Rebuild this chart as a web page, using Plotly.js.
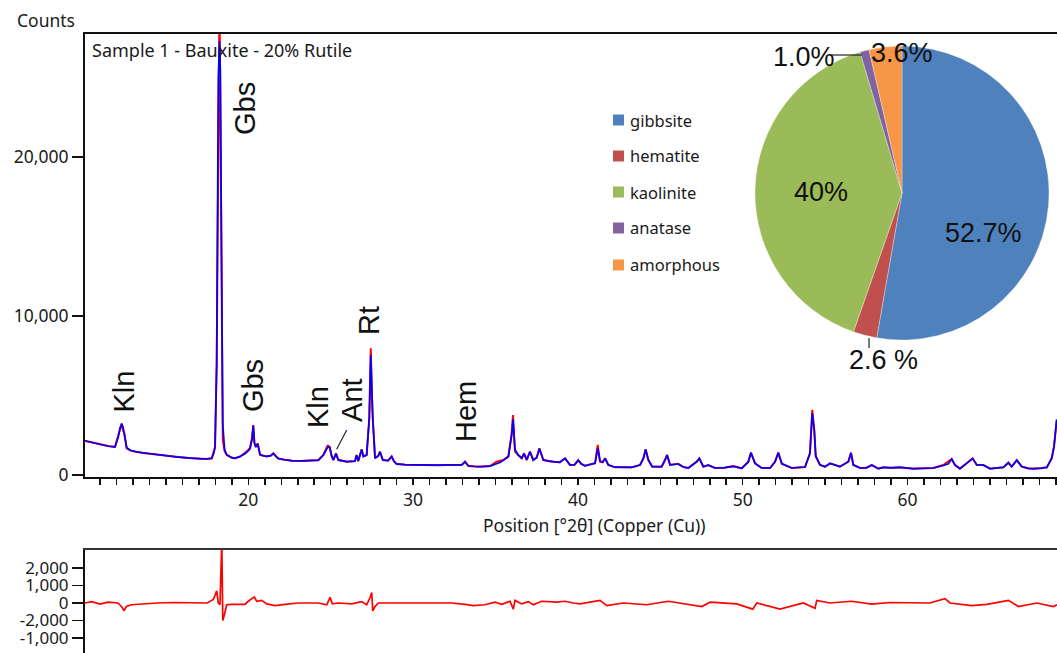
<!DOCTYPE html>
<html>
<head>
<meta charset="utf-8">
<script src="https://cdn.plot.ly/plotly-3.0.1.min.js"></script>
<style>html,body{margin:0;padding:0;background:#fff;}#chart{width:1057px;height:653px;}</style>
</head>
<body>
<div id="chart"></div>
<script>
// ---------- DATA ----------
const twoTheta = [10.09,10.6,11.10,11.5,11.91,12.11,12.22,12.32,12.40,12.48,12.62,12.85,13.12,13.6,14.14,14.6,15.15,15.6,16.16,16.6,17.17,17.5,17.78,17.90,17.98,18.08,18.18,18.25,18.30,18.39,18.45,18.56,18.69,19.0,19.19,19.5,19.80,19.98,20.10,20.22,20.30,20.37,20.45,20.57,20.71,20.9,21.12,21.35,21.52,21.70,21.82,22.2,22.63,23.2,23.8,24.25,24.55,24.72,24.82,24.94,25.06,25.16,25.32,25.46,25.97,26.47,26.57,26.67,26.88,26.98,27.18,27.34,27.43,27.50,27.55,27.69,27.88,27.99,28.16,28.48,28.70,28.84,29.0,29.5,30.01,30.5,31.03,31.5,32.04,32.5,32.95,33.15,33.35,33.7,34.06,34.67,35.07,35.30,35.47,35.78,35.98,36.06,36.18,36.38,36.59,36.73,36.89,37.09,37.29,37.5,37.66,37.90,38.2,38.51,38.9,39.22,39.52,39.8,40.02,40.2,40.43,41.04,41.20,41.34,41.5,41.65,41.84,42.25,42.8,43.26,43.77,43.97,44.11,44.27,44.51,45.08,45.28,45.41,45.59,46.09,46.4,46.70,47.21,47.37,47.61,47.91,48.32,48.9,49.43,49.94,50.34,50.50,50.75,51.15,51.66,51.96,52.16,52.37,52.97,53.4,53.78,54.08,54.22,54.34,54.43,54.69,54.99,55.30,55.90,56.41,56.57,56.71,57.12,57.5,57.83,58.23,58.53,59.0,59.54,60.35,61.0,61.57,62.17,62.48,62.68,62.88,63.18,63.59,63.95,64.20,64.60,65.01,65.4,65.81,66.12,66.32,66.63,66.93,67.3,67.63,68.1,68.45,68.75,68.89,69.05];
const observedCounts = [2160,2030,1890,1820,1780,2410,2900,3250,2800,2620,1680,1530,1470,1390,1320,1260,1195,1140,1090,1050,1005,1010,1040,1500,1780,7000,22000,29500,24000,11700,2200,1500,1260,1080,1050,1150,1365,1550,1700,2300,3145,2000,1780,1990,1260,1200,1170,1200,1365,1150,1040,960,900,880,900,930,1260,1600,1880,1700,1170,940,1365,940,840,870,1260,870,1615,1170,1260,3570,7970,5000,3590,1050,1200,1470,940,900,1170,850,690,650,630,620,630,610,630,620,630,840,570,540,520,560,840,900,940,1170,2620,3770,1470,1260,1050,1365,940,1470,940,1100,1680,940,880,840,800,1050,630,650,940,700,580,735,1890,840,800,1050,630,480,480,480,630,1050,1615,940,520,520,940,1260,630,700,500,440,840,1050,520,630,440,460,560,420,840,1405,735,440,440,840,1405,700,440,470,500,1365,4090,2830,1170,630,520,735,525,840,1405,630,440,450,630,400,480,450,480,400,420,440,630,840,1010,630,400,735,1050,630,630,400,420,480,780,520,940,520,420,400,430,480,1050,1780,3400];
const calculatedCounts = [2140,2010,1880,1810,1760,2380,2950,3200,3000,2500,1720,1560,1470,1400,1320,1250,1190,1140,1090,1050,1010,1020,1060,1350,1700,6900,25000,27300,25500,11500,3200,1600,1280,1090,1050,1170,1340,1500,1650,2200,3100,2050,1750,1960,1300,1210,1170,1220,1350,1160,1040,960,900,890,900,930,1240,1550,1750,1780,1200,950,1340,950,840,870,1240,880,1600,1160,1250,3550,7550,5300,3600,1060,1200,1450,950,900,1150,860,700,650,630,625,630,620,630,620,640,820,580,550,530,560,700,800,920,1150,2500,3500,1600,1250,1060,1350,960,1460,950,1090,1650,950,870,840,800,1040,640,650,920,700,580,730,1680,880,800,1040,640,490,480,480,620,1030,1600,960,530,520,920,1250,640,690,500,440,830,1040,530,620,440,460,540,420,820,1400,730,450,440,820,1400,720,440,470,500,1360,3900,2830,1200,640,520,720,525,830,1390,640,440,450,620,400,480,450,480,400,420,440,600,700,1000,640,400,720,1030,650,620,400,420,480,770,520,930,530,420,400,430,480,1050,1800,3500];

const diffTwoTheta = [10.09,10.5,11.0,11.5,12.1,12.35,12.45,12.6,12.9,13.5,14.5,15.5,16.5,17.5,17.88,18.08,18.18,18.28,18.39,18.45,18.54,18.69,19.0,19.8,20.0,20.2,20.36,20.51,20.81,21.12,21.62,22.23,23.03,24.25,24.76,24.96,25.1,25.46,26.27,26.88,27.18,27.38,27.49,27.55,27.69,27.89,29.31,32.34,33.15,33.65,34.36,34.97,35.38,35.88,36.08,36.18,36.59,36.99,37.29,37.8,38.71,39.22,39.72,40.13,41.34,41.75,42.76,44.17,45.49,47.51,48.02,49.64,50.61,50.85,52.26,53.68,54.39,54.49,55.3,56.61,57.83,58.94,61.36,62.27,62.58,63.89,64.81,66.12,66.72,67.84,68.85,69.07];
const diffCounts = [0,80,-60,50,0,-250,-440,-200,-100,-50,0,30,0,0,200,700,0,-100,3500,-1000,-700,-100,-80,-80,100,250,350,100,150,-50,-150,-80,0,0,-100,320,-50,0,-50,80,-100,300,600,-450,-200,0,0,0,-80,-150,-100,50,-80,100,-350,150,-50,80,-100,100,50,100,0,-50,150,-150,0,-100,100,-200,50,-50,-350,0,-350,0,-300,150,0,100,-60,30,0,250,0,-150,-80,150,-200,0,-200,-100];

const phases = ['gibbsite','hematite','kaolinite','anatase','amorphous'];
const phaseShares = [52.7, 2.6, 40.0, 1.0, 3.6];
const shareLabels = ['52.7%','2.6 %','40%','1.0%','3.6%'];
const phaseColors = ['#4F81BD','#C0504D','#9BBB59','#8064A2','#F79646'];

// ---------- LAYOUT HELPERS ----------
const W = 1057, H = 653;
const PX = x => x / W;
const PY = y => 1 - y / H;
const AX = 'Noto Sans, Open Sans, sans-serif';
const ARIAL = 'Liberation Sans, Arial, sans-serif';
const TXT = '#1a1a1a';

const traces = [
  {type:'scatter', mode:'lines', x:twoTheta, y:observedCounts, xaxis:'x', yaxis:'y',
   line:{color:'#ff0000', width:2}, name:'Observed', hoverinfo:'x+y'},
  {type:'scatter', mode:'lines', x:twoTheta, y:calculatedCounts, xaxis:'x', yaxis:'y',
   line:{color:'#0000ff', width:1.7}, name:'Calculated', hoverinfo:'x+y'},
  {type:'scatter', mode:'lines', x:diffTwoTheta, y:diffCounts, xaxis:'x2', yaxis:'y2',
   line:{color:'#ff0000', width:1.7}, name:'Difference', hoverinfo:'x+y'},
  {type:'pie', labels:phases, values:phaseShares, sort:false, direction:'clockwise', rotation:0,
   marker:{colors:phaseColors, line:{color:'rgba(255,255,255,0.6)', width:0.5}},
   textinfo:'none', hoverinfo:'label+percent',
   domain:{x:[PX(902-147), PX(902+147)], y:[PY(193+147), PY(193-147)]}}
];

const annotations = [
  {xref:'paper', yref:'paper', x:PX(15), y:PY(20), xanchor:'left', yanchor:'middle', text:'Counts', showarrow:false, font:{family:AX, size:17.5, color:TXT}},
  {xref:'paper', yref:'paper', x:PX(90), y:PY(50), xanchor:'left', yanchor:'middle', text:'Sample 1 - Bauxite - 20% Rutile', showarrow:false, font:{family:AX, size:18, color:TXT}},
  {xref:'paper', yref:'paper', x:PX(594), y:PY(525), xanchor:'center', yanchor:'middle', text:'Position [°2θ] (Copper (Cu))', showarrow:false, font:{family:AX, size:17.5, color:TXT}}
];
// peak labels (rotated)
const peakLabels = [
  ['Kln', 12.43, 5220], ['Gbs', 19.80, 23020], ['Gbs', 20.29, 5600], ['Kln', 24.23, 4280],
  ['Ant', 26.29, 4720], ['Rt', 27.32, 9750], ['Hem', 33.21, 3960]
];
peakLabels.forEach(p => annotations.push({xref:'x', yref:'y', x:p[1], y:p[2], text:p[0], textangle:-90,
  xanchor:'center', yanchor:'middle', showarrow:false, font:{family:ARIAL, size:29, color:'#111'}}));

// pie labels
const pieLabelPos = [[983,233],[883,360],[821,192],[804,57],[902,53]];
shareLabels.forEach((t,i) => annotations.push({xref:'paper', yref:'paper', x:PX(pieLabelPos[i][0]), y:PY(pieLabelPos[i][1]),
  xanchor:'center', yanchor:'middle', text:t, showarrow:false, font:{family:ARIAL, size:27, color:'#111'}}));

// legend (manual)
const legY = [120,156,192,228,265];
const shapes = [
  {type:'line', xref:'x', yref:'y', x0:25.97, y0:2830, x1:25.36, y1:1620, line:{color:'#222', width:1.2}},
  {type:'line', xref:'paper', yref:'paper', x0:PX(830), y0:PY(55), x1:PX(862), y1:PY(55), line:{color:'#222', width:1.2}},
  {type:'line', xref:'paper', yref:'paper', x0:PX(869), y0:PY(338), x1:PX(869), y1:PY(348), line:{color:'#222', width:1.2}}
];
phases.forEach((ph,i) => {
  shapes.push({type:'rect', xref:'paper', yref:'paper', x0:PX(613), x1:PX(624), y0:PY(legY[i]+5.5), y1:PY(legY[i]-5.5),
    fillcolor:phaseColors[i], line:{width:0}});
  annotations.push({xref:'paper', yref:'paper', x:PX(628), y:PY(legY[i]), xanchor:'left', yanchor:'middle',
    text:ph, showarrow:false, font:{family:AX, size:16.5, color:TXT}});
});

const layout = {
  width:W, height:H, margin:{l:0, r:0, t:0, b:0},
  paper_bgcolor:'#fff', plot_bgcolor:'#fff', showlegend:false,
  font:{family:AX, size:17.5, color:TXT},
  xaxis:{domain:[PX(85),1], range:[10.09,69.07], anchor:'y', tickvals:[20,30,40,50,60],
    ticks:'outside', ticklen:6, tickwidth:1.5, tickcolor:'#111',
    minor:{dtick:1, tick0:0, ticks:'outside', ticklen:6, tickwidth:1.5, tickcolor:'#111'},
    showline:true, linewidth:2, linecolor:'#111', mirror:true, showgrid:false, zeroline:false, automargin:false,
    tickfont:{family:AX, size:17.5, color:TXT}},
  yaxis:{domain:[PY(476.5), PY(34)], range:[-95,27740], anchor:'x', tickvals:[0,10000,20000], tickformat:',d',
    ticks:'outside', ticklen:11, tickwidth:1.5, tickcolor:'#111',
    showline:true, linewidth:2, linecolor:'#111', showgrid:false, zeroline:false, automargin:false,
    tickfont:{family:AX, size:17.5, color:TXT}},
  xaxis2:{domain:[PX(85),1], range:[10.09,69.07], anchor:'y2', side:'top', showline:true, linewidth:2.5,
    linecolor:'#333', ticks:'', showticklabels:false, showgrid:false, zeroline:false, automargin:false},
  yaxis2:{domain:[0, PY(550)], range:[-2857,3029], anchor:'x2', tickvals:[2000,1000,0,-1000,-2000],
    ticktext:['2,000','1,000','0','-2,000','-1,000'], ticks:'outside', ticklen:11, tickwidth:1.5, tickcolor:'#111',
    showline:true, linewidth:2, linecolor:'#111', showgrid:false, zeroline:false, automargin:false,
    tickfont:{family:AX, size:17, color:TXT}},
  annotations:annotations, shapes:shapes
};

Plotly.newPlot('chart', traces, layout, {displayModeBar:false, staticPlot:true});
</script>
</body>
</html>
